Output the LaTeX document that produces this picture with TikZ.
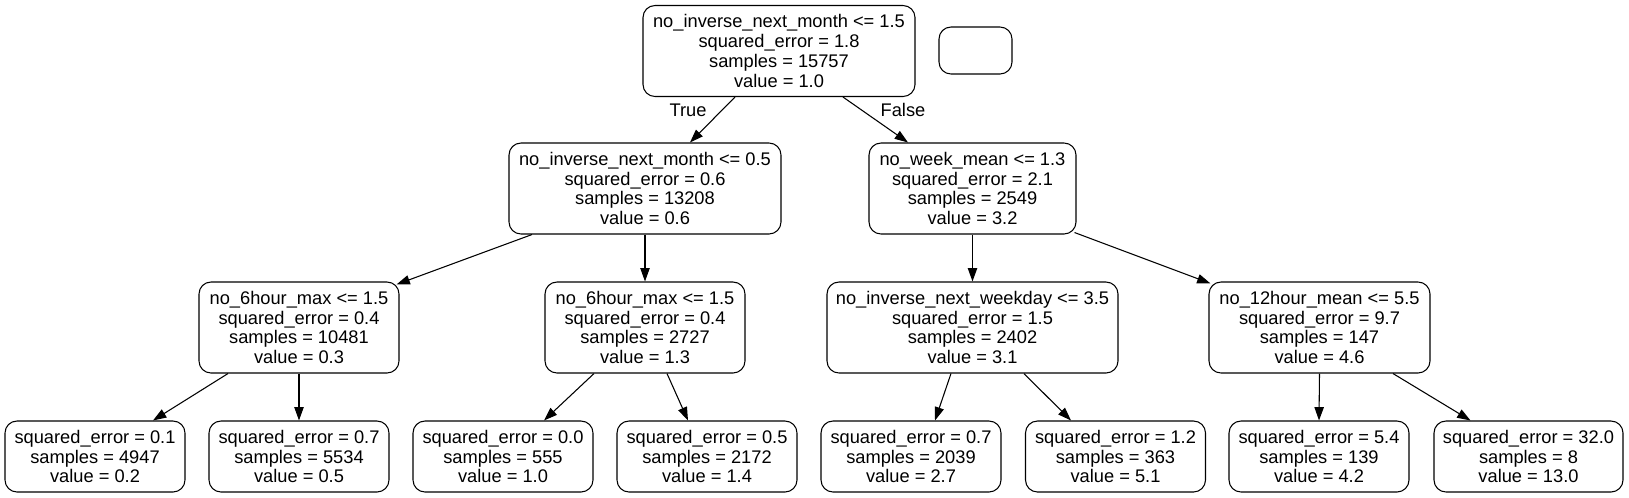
\documentclass[tikz,border=0pt]{standalone}
\usepackage{fontspec}
\setmainfont{Liberation Sans}
\usetikzlibrary{arrows.meta,calc}

\tikzset{
  treenode/.style = {draw, thick, rounded corners=9pt, align=center, inner sep=0pt,
                     font=\fontsize{13.7pt}{14.85pt}\selectfont},
  inner/.style = {treenode, minimum height=68.25pt},
  leaf/.style = {treenode, minimum height=53.25pt, minimum width=135pt},
  edge/.style = {thick, -{Triangle[length=10pt,width=7pt]}},
  lbl/.style = {font=\fontsize{13.7pt}{14.85pt}\selectfont}
}

\begin{document}
\begin{tikzpicture}[x=0.75pt, y=-0.75pt]
  \useasboundingbox (0,0) rectangle (1629,497);

  % La racine
  \node[inner, minimum width=204pt] (root) at (779,51)
    {no\_inverse\_next\_month <= 1.5\\squared\_error = 1.8\\samples = 15757\\value = 1.0};
  \node[treenode, minimum width=54.75pt, minimum height=35.25pt] (blank) at (975.5,50.5) {};

  % Niveau 1
  \node[inner, minimum width=204pt] (lA) at (645,188.5)
    {no\_inverse\_next\_month <= 0.5\\squared\_error = 0.6\\samples = 13208\\value = 0.6};
  \node[inner, minimum width=155.25pt] (lB) at (972.5,188.5)
    {no\_week\_mean <= 1.3\\squared\_error = 2.1\\samples = 2549\\value = 3.2};

  % Niveau 2
  \node[inner, minimum width=150pt] (lAA) at (299,327.5)
    {no\_6hour\_max <= 1.5\\squared\_error = 0.4\\samples = 10481\\value = 0.3};
  \node[inner, minimum width=150pt] (lAB) at (645,327.5)
    {no\_6hour\_max <= 1.5\\squared\_error = 0.4\\samples = 2727\\value = 1.3};
  \node[inner, minimum width=218.25pt] (lBA) at (972.5,327.5)
    {no\_inverse\_next\_weekday <= 3.5\\squared\_error = 1.5\\samples = 2402\\value = 3.1};
  \node[inner, minimum width=165.75pt] (lBB) at (1319.5,327.5)
    {no\_12hour\_mean <= 5.5\\squared\_error = 9.7\\samples = 147\\value = 4.6};

  % Les feuilles
  \node[leaf] (f1) at (95,456.5) {squared\_error = 0.1\\samples = 4947\\value = 0.2};
  \node[leaf] (f2) at (299,456.5) {squared\_error = 0.7\\samples = 5534\\value = 0.5};
  \node[leaf] (f3) at (503,456.5) {squared\_error = 0.0\\samples = 555\\value = 1.0};
  \node[leaf] (f4) at (707,456.5) {squared\_error = 0.5\\samples = 2172\\value = 1.4};
  \node[leaf] (f5) at (911,456.5) {squared\_error = 0.7\\samples = 2039\\value = 2.7};
  \node[leaf] (f6) at (1115.5,456.5) {squared\_error = 1.2\\samples = 363\\value = 5.1};
  \node[leaf] (f7) at (1319,456.5) {squared\_error = 5.4\\samples = 139\\value = 4.2};
  \node[leaf, minimum width=141.75pt] (f8) at (1528.5,456.5) {squared\_error = 32.0\\samples = 8\\value = 13.0};

  % Les fleches
  \draw[edge] ($(root.south)+(-44,0)$) -- ($(lA.north)+(45,0)$);
  \draw[edge] ($(root.south)+(64,0)$) -- ($(lB.north)+(-64.5,0)$);
  \draw[edge] ($(lA.south)+(-113,0)$) -- ($(lAA.north east)+(-3,3)$);
  \draw[edge] (lA.south) -- (lAB.north);
  \draw[edge] (lB.south) -- (lBA.north);
  \draw[edge] ($(lB.south east)+(-2,-2)$) -- ($(lBB.north west)+(2,2)$);
  \draw[edge] ($(lAA.south)+(-71,0)$) -- ($(f1.north)+(58,0)$);
  \draw[edge] (lAA.south) -- (f2.north);
  \draw[edge] ($(lAB.south)+(-51,0)$) -- ($(f3.north)+(41,0)$);
  \draw[edge] ($(lAB.south)+(22,0)$) -- ($(f4.north)+(-19,0)$);
  \draw[edge] ($(lBA.south)+(-21.5,0)$) -- ($(f5.north)+(24,0)$);
  \draw[edge] ($(lBA.south)+(51.5,0)$) -- ($(f6.north)+(-44.5,0)$);
  \draw[edge] (lBB.south) -- (f7.north);
  \draw[edge] ($(lBB.south)+(73.5,0)$) -- ($(f8.north)+(-58,0)$);

  % Les etiquettes
  \node[lbl] (vrai) at (688,110) {True};
  \node[lbl] (faux) at (903,110) {False};
\end{tikzpicture}
\end{document}
